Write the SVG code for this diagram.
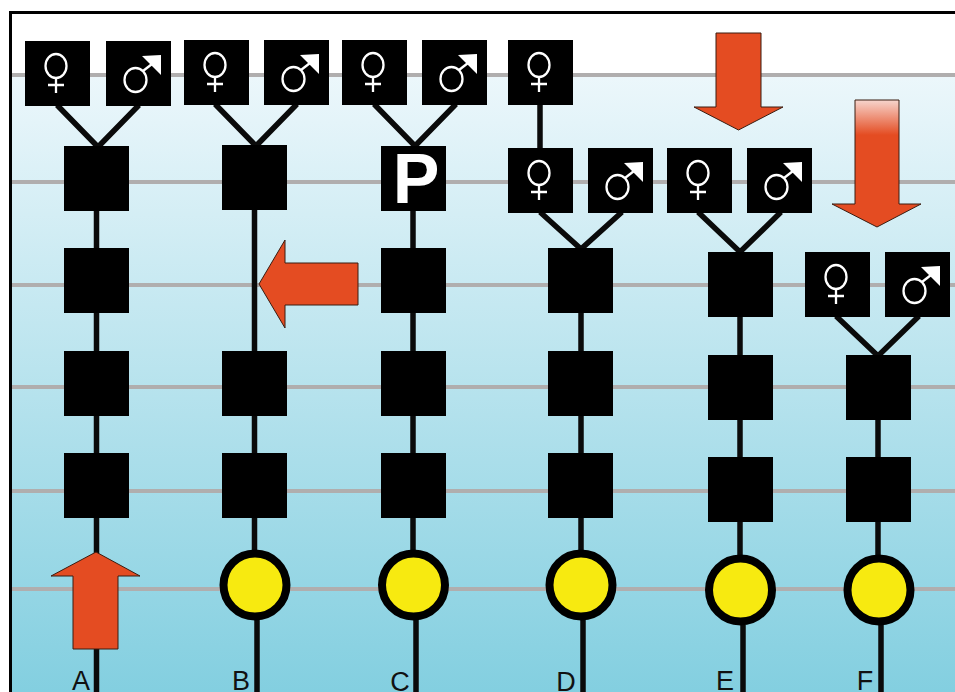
<svg xmlns="http://www.w3.org/2000/svg" xmlns:xlink="http://www.w3.org/1999/xlink" width="955" height="692" viewBox="0 0 955 692">
<style>
.g{stroke:#b0aeae;stroke-width:4;fill:none}
.l{stroke:#0a0a0a;stroke-width:5.500;fill:none}
.s{fill:#000}
.i{fill:none;stroke:#fff;stroke-width:2.300}
.c{fill:#f7ea10;stroke:#000;stroke-width:8}
.a{fill:#e44c22;stroke:#3a1c10;stroke-width:1}
.t{font-family:"Liberation Sans",Arial,sans-serif;font-size:27px;fill:#111;text-anchor:middle}
</style>
<defs>
<linearGradient id="bg" x1="0" y1="0" x2="0" y2="1"><stop offset="0" stop-color="#ecf7fb"/><stop offset="1" stop-color="#83cfe0"/></linearGradient>
<linearGradient id="fade" x1="0" y1="100" x2="0" y2="135" gradientUnits="userSpaceOnUse"><stop offset="0" stop-color="#f7d5cd"/><stop offset="1" stop-color="#e44c22"/></linearGradient>
<g id="f"><rect class="s" width="65" height="65"/><ellipse class="i" cx="31" cy="25" rx="10.500" ry="12"/><path class="i" d="M31 37V52M23 44H39"/></g>
<g id="m"><rect class="s" width="65" height="65"/><ellipse class="i" cx="29.500" cy="39" rx="11" ry="12"/><path class="i" d="M37 30L46 23"/><path d="M36 15L55 14V34Z" fill="#fff"/></g>
</defs>
<rect width="955" height="692" fill="#fff"/>
<rect x="10" y="75" width="945" height="617" fill="url(#bg)"/>
<g id="grid">
<path class="g" d="M11 75H955M11 182H955M11 285H955M11 387H955M11 491H955M11 589H955"/>
</g>
<path id="frame" d="M10.500 692V12.500H955" fill="none" stroke="#000" stroke-width="3"/>
<g id="connectors">
<path class="l" d="M57 105L98 147L139 105M96.500 147V692"/>
<path class="l" d="M215 104L256 146L297 104M254.500 146V550M257 620V692"/>
<path class="l" d="M374 104L415 146L456 104M413 146V550M416 620V692"/>
<path class="l" d="M540 104V149M540 212L581 249L622 212M581 249V550M583 620V692"/>
<path class="l" d="M698 212L740 252L781 212M740 252V555M743 625V692"/>
<path class="l" d="M836 316L878 356L919 316M878 356V555M881 625V692"/>
</g>
<g id="A-f1"><use xlink:href="#f" x="25" y="41"/></g><g id="A-m1"><use xlink:href="#m" x="106" y="41"/></g>
<g id="A-1"><rect class="s" x="64" y="146" width="65" height="65"/></g><g id="A-2"><rect class="s" x="64" y="248" width="65" height="65"/></g><g id="A-3"><rect class="s" x="64" y="351" width="65" height="65"/></g><g id="A-4"><rect class="s" x="64" y="453" width="65" height="65"/></g>
<g id="B-f1"><use xlink:href="#f" x="184" y="40"/></g><g id="B-m1"><use xlink:href="#m" x="264" y="40"/></g>
<g id="B-1"><rect class="s" x="222" y="145" width="65" height="65"/></g><g id="B-3"><rect class="s" x="222" y="351" width="65" height="65"/></g><g id="B-4"><rect class="s" x="222" y="453" width="65" height="65"/></g><g id="B-c"><circle class="c" cx="255" cy="585" r="31.500"/></g>
<g id="C-f1"><use xlink:href="#f" x="342" y="40"/></g><g id="C-m1"><use xlink:href="#m" x="422" y="40"/></g>
<g id="C-P"><rect class="s" x="381" y="146" width="65" height="65"/><text x="416" y="203" font-family="'Liberation Sans',Arial,sans-serif" font-size="70" font-weight="700" fill="#fff" text-anchor="middle">P</text></g>
<g id="C-2"><rect class="s" x="381" y="248" width="65" height="65"/></g><g id="C-3"><rect class="s" x="381" y="351" width="65" height="65"/></g><g id="C-4"><rect class="s" x="381" y="453" width="65" height="65"/></g><g id="C-c"><circle class="c" cx="413.500" cy="585" r="31.500"/></g>
<g id="D-f0"><use xlink:href="#f" x="508" y="40"/></g><g id="D-f1"><use xlink:href="#f" x="508" y="148"/></g><g id="D-m1"><use xlink:href="#m" x="588" y="148"/></g>
<g id="D-2"><rect class="s" x="548" y="248" width="65" height="65"/></g><g id="D-3"><rect class="s" x="548" y="351" width="65" height="65"/></g><g id="D-4"><rect class="s" x="548" y="453" width="65" height="65"/></g><g id="D-c"><circle class="c" cx="581" cy="585" r="31.500"/></g>
<g id="E-f1"><use xlink:href="#f" x="667" y="148"/></g><g id="E-m1"><use xlink:href="#m" x="747" y="148"/></g>
<g id="E-2"><rect class="s" x="708" y="252" width="65" height="65"/></g><g id="E-3"><rect class="s" x="708" y="355" width="65" height="65"/></g><g id="E-4"><rect class="s" x="708" y="457" width="65" height="65"/></g><g id="E-c"><circle class="c" cx="740.500" cy="590" r="31.500"/></g>
<g id="F-f1"><use xlink:href="#f" x="805" y="252"/></g><g id="F-m1"><use xlink:href="#m" x="885" y="252"/></g>
<g id="F-3"><rect class="s" x="846" y="355" width="65" height="65"/></g><g id="F-4"><rect class="s" x="846" y="457" width="65" height="65"/></g><g id="F-c"><circle class="c" cx="879" cy="590" r="31.500"/></g>
<g id="arrows">
<path class="a" d="M96 552L140 576H118V649H73V576H51Z"/>
<path class="a" d="M259 284L285 240V263H358V305H285V328Z"/>
<path class="a" d="M716 33H761V107H783L738.500 130L694 107H716Z"/>
<path class="a" style="fill:url(#fade)" d="M855 100H899V204H921L877 227L832 204H855Z"/>
</g>
<g id="labels">
<text class="t" x="81" y="690">A</text><text class="t" x="241" y="690">B</text><text class="t" x="400" y="691">C</text><text class="t" x="566" y="691">D</text><text class="t" x="725" y="690">E</text><text class="t" x="865" y="690">F</text>
</g>
</svg>
